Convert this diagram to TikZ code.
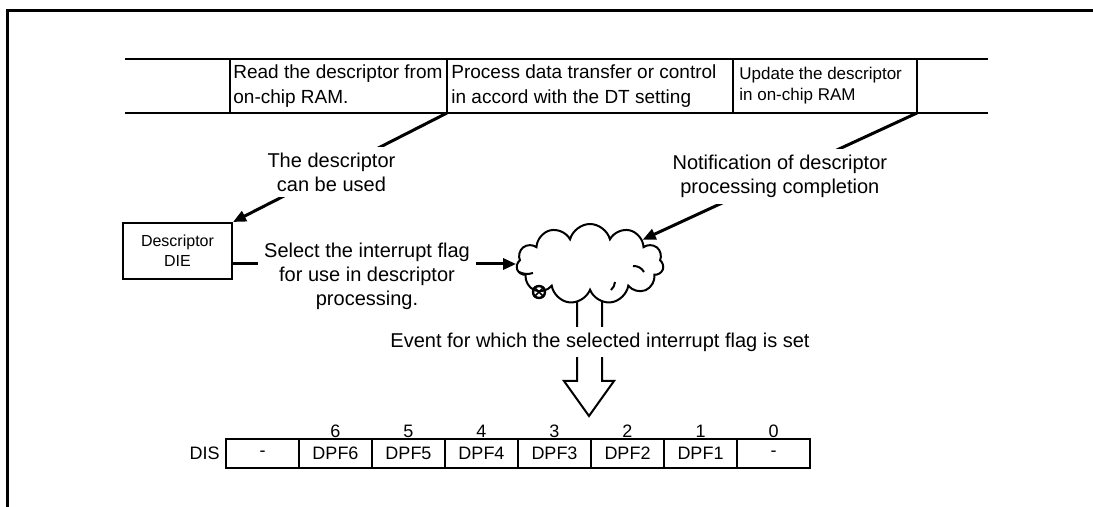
\documentclass[tikz,border=0pt]{standalone}
\usepackage{fontspec}
\setmainfont{Liberation Sans}
\usetikzlibrary{positioning,arrows.meta,shapes.symbols}

\tikzset{
  cellText/.style={anchor=west, align=left, inner sep=1pt, font=\fontsize{9.5}{12.5}\selectfont},
  lbl/.style={fill=white, align=center, inner sep=3pt, font=\fontsize{10}{12}\selectfont},
  flow/.style={->, line width=1.5pt},
  bit/.style={draw, line width=1pt, minimum width=36.5pt, minimum height=14.5pt, inner sep=0pt, outer sep=0pt, font=\fontsize{9}{11}\selectfont},
  bitno/.style={font=\fontsize{9}{11}\selectfont, inner sep=0.5pt},
}

\begin{document}
\begin{tikzpicture}[x=0.5pt, y=-0.5pt, >={Triangle[length=6.5pt, width=5.5pt]}]
  \useasboundingbox (0,0) rectangle (1093,507);
  % frame
  \draw[line width=1.5pt] (1093,11) -- (7,11) -- (7,507);

  % processing time line
  \draw[line width=1pt] (125,59) -- (988,59) (125,113) -- (988,113);
  \draw[line width=1pt] (230,59) -- (230,113) (447,59) -- (447,113)
        (733,59) -- (733,113) (917,59) -- (917,113);
  \coordinate (rdEnd) at (447,113);
  \coordinate (updEnd) at (917,113);
  \node[cellText] (rd) at (231,86) {Read the descriptor from\\on-chip RAM.};
  \node[cellText] (proc) at (449,86) {Process data transfer or control\\in accord with the DT setting};
  \node[cellText, font=\fontsize{8.5}{10.5}\selectfont] (upd) at (737,86) {Update the descriptor\\in on-chip RAM};

  % descriptor box
  \node[draw, line width=1pt, minimum width=54.5pt, minimum height=28pt, align=center,
        font=\fontsize{8}{10}\selectfont] (die) at (177.5,251) {Descriptor\\DIE};

  % hollow arrow down to the register
  \draw[line width=1pt, fill=white] (577,296) -- (577,381) -- (564,381) -- (589,416)
        -- (614,381) -- (602,381) -- (602,296);

  % interrupt selection
  \node[cloud, draw, fill=white, line width=1pt, cloud puffs=11, aspect=1.8,
        minimum width=73.5pt, minimum height=40pt, inner sep=0pt] (cloud) at (590,264) {};
  \draw[line width=1pt] (519,272) to[bend right=20] (533,273)
        (633,266) to[bend left=30] (644,272)
        (611,290) to[bend right=20] (615,282);
  \node[circle, draw, line width=1.2pt, minimum size=6pt, inner sep=0pt] (bubble) at (539,292) {};
  \draw[line width=0.8pt] (bubble.north west) -- (bubble.south east)
        (bubble.north east) -- (bubble.south west);

  \draw[flow] (rdEnd) -- node[lbl, pos=0.54] (usable) {The descriptor\\can be used} (die.north east);
  \draw[flow] (updEnd) -- node[lbl] (notify) {Notification of descriptor\\processing completion} (cloud);
  \draw[flow] (die.east |- cloud.west) -- (cloud.west);
  \node[lbl] (select) at (367,276) {Select the interrupt flag\\for use in descriptor\\processing.};
  \node[lbl] (event) at (600,342) {Event for which the selected interrupt flag is set};

  % DIS register
  \node[bit] (b7) at (262.5,453.5) {-};
  \node[bit, right=0pt of b7, label={[bitno]above:6}] (b6) {DPF6};
  \node[bit, right=0pt of b6, label={[bitno]above:5}] (b5) {DPF5};
  \node[bit, right=0pt of b5, label={[bitno]above:4}] (b4) {DPF4};
  \node[bit, right=0pt of b4, label={[bitno]above:3}] (b3) {DPF3};
  \node[bit, right=0pt of b3, label={[bitno]above:2}] (b2) {DPF2};
  \node[bit, right=0pt of b2, label={[bitno]above:1}] (b1) {DPF1};
  \node[bit, right=0pt of b1, label={[bitno]above:0}] (b0) {-};
  \node[left=2pt of b7, inner sep=1pt, font=\fontsize{9}{11}\selectfont] (dis) {DIS};
\end{tikzpicture}
\end{document}
